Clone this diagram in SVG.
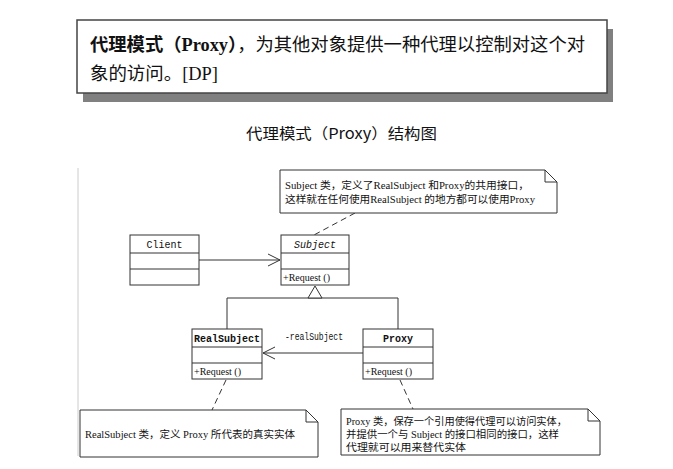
<svg xmlns="http://www.w3.org/2000/svg" width="673" height="469" viewBox="0 0 673 469">
<style>
.box{fill:#fff;stroke:#333;stroke-width:1}
.note{fill:#fff;stroke:#333;stroke-width:1}
.ln{fill:none;stroke:#333;stroke-width:1}
.dash{fill:none;stroke:#333;stroke-width:1;stroke-dasharray:6,4}
.t{font-family:"Liberation Mono","Noto Sans CJK SC",monospace;font-size:10px;fill:#111}
.cn{font-family:"Liberation Serif","Noto Sans CJK SC",serif;font-size:10px;fill:#111}
.op{font-family:"Liberation Serif",serif;font-size:10px;fill:#111}
.hd{font-family:"Liberation Serif","Noto Sans CJK SC",serif;font-size:18px;fill:#111}
</style>
<defs>
<marker id="open" viewBox="0 0 14 14" refX="13" refY="7" markerWidth="14" markerHeight="14" markerUnits="userSpaceOnUse" orient="auto">
<path d="M1,1 L13,7 L1,13" fill="none" stroke="#333" stroke-width="1"/>
</marker>
</defs>
<rect width="673" height="469" fill="#fff"/>
<g id="definition">
<rect x="83" y="29" width="530" height="73" fill="#808080"/>
<rect x="77" y="20" width="530" height="73" fill="#fff" stroke="#444" stroke-width="1.5"/>
<text class="hd" x="90" y="51" textLength="495" lengthAdjust="spacingAndGlyphs"><tspan font-weight="bold">代理模式（Proxy）</tspan>，为其他对象提供一种代理以控制对这个对</text>
<text class="hd" x="90" y="80" textLength="128" lengthAdjust="spacingAndGlyphs">象的访问。[DP]</text>
</g>
<text id="title" x="246" y="139" font-family="'Noto Sans CJK SC',sans-serif" font-size="15" fill="#111" textLength="191" lengthAdjust="spacingAndGlyphs">代理模式（Proxy）结构图</text>
<line id="frame" x1="78" y1="168" x2="78" y2="456" stroke="#ccc" stroke-width="1"/>
<g id="connectors">
<line class="dash" x1="355" y1="213" x2="314" y2="235"/>
<line class="ln" x1="199" y1="260" x2="280" y2="260" marker-end="url(#open)"/>
<path class="ln" d="M227,329 V298 H398 V329"/>
<path d="M315,286 L308,298 H322 Z" fill="#fff" stroke="#333" stroke-width="1"/>
<line class="ln" x1="363" y1="353" x2="263" y2="353" marker-end="url(#open)"/>
<text class="t" x="285" y="340" textLength="58" lengthAdjust="spacingAndGlyphs">-realSubject</text>
<line class="dash" x1="226" y1="380" x2="212" y2="410"/>
<line class="dash" x1="400" y1="380" x2="413" y2="409"/>
</g>
<g id="note-subject">
<path class="note" d="M280,170 H545 L557,182 V213 H280 Z"/>
<path class="ln" d="M545,170 V182 H557"/>
<text class="cn" x="285" y="189" textLength="244" lengthAdjust="spacingAndGlyphs">Subject 类，定义了RealSubject 和Proxy的共用接口，</text>
<text class="cn" x="285" y="203" textLength="250" lengthAdjust="spacingAndGlyphs">这样就在任何使用RealSubject 的地方都可以使用Proxy</text>
</g>
<g id="client">
<rect class="box" x="130" y="235" width="69" height="50"/>
<line class="ln" x1="130" y1="253" x2="199" y2="253"/>
<line class="ln" x1="130" y1="269" x2="199" y2="269"/>
<text class="t" x="164.5" y="248" text-anchor="middle">Client</text>
</g>
<g id="subject">
<rect class="box" x="281" y="235" width="68" height="50"/>
<line class="ln" x1="281" y1="253" x2="349" y2="253"/>
<line class="ln" x1="281" y1="269" x2="349" y2="269"/>
<text class="t" x="315" y="248" text-anchor="middle" font-style="italic">Subject</text>
<text class="op" x="283" y="281">+Request ()</text>
</g>
<g id="realsubject">
<rect class="box" x="192" y="329" width="70" height="50"/>
<line class="ln" x1="192" y1="347" x2="262" y2="347"/>
<line class="ln" x1="192" y1="363" x2="262" y2="363"/>
<text class="t" x="227" y="342" text-anchor="middle" font-weight="bold">RealSubject</text>
<text class="op" x="194" y="375">+Request ()</text>
</g>
<g id="proxy">
<rect class="box" x="363" y="329" width="70" height="50"/>
<line class="ln" x1="363" y1="347" x2="433" y2="347"/>
<line class="ln" x1="363" y1="363" x2="433" y2="363"/>
<text class="t" x="398" y="342" text-anchor="middle" font-weight="bold">Proxy</text>
<text class="op" x="365" y="375">+Request ()</text>
</g>
<g id="note-realsubject">
<path class="note" d="M80,410 H306 L318,422 V457 H80 Z"/>
<path class="ln" d="M306,410 V422 H318"/>
<text class="cn" x="85" y="438" textLength="210" lengthAdjust="spacingAndGlyphs">RealSubject 类，定义 Proxy 所代表的真实实体</text>
</g>
<g id="note-proxy">
<path class="note" d="M341,409 H588 L600,421 V455 H341 Z"/>
<path class="ln" d="M588,409 V421 H600"/>
<text class="cn" x="346" y="425" textLength="221" lengthAdjust="spacingAndGlyphs">Proxy 类，保存一个引用使得代理可以访问实体，</text>
<text class="cn" x="346" y="438" textLength="213" lengthAdjust="spacingAndGlyphs">并提供一个与 Subject 的接口相同的接口，这样</text>
<text class="cn" x="346" y="451" textLength="120" lengthAdjust="spacingAndGlyphs">代理就可以用来替代实体</text>
</g>
</svg>
